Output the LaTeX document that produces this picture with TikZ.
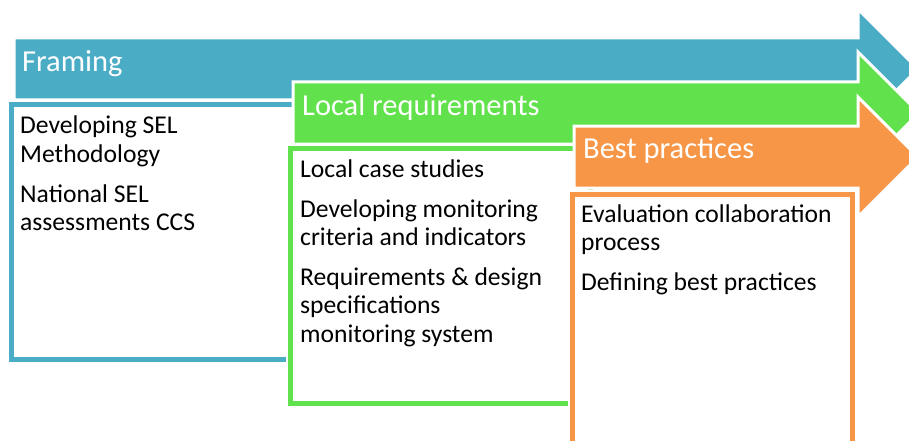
\documentclass[tikz,border=0pt]{standalone}
\usepackage{fontspec}
\setmainfont{Carlito}
\definecolor{cblue}{HTML}{4BACC6}
\definecolor{cgreen}{HTML}{61E14B}
\definecolor{corange}{HTML}{F79646}
\tikzset{
  arrowshape/.style={draw=white, line width=3pt, line join=miter},
  boxshape/.style={fill=white, line width=5pt},
  halo/.style={draw=white, line width=9pt},
  titletext/.style={anchor=base west, inner sep=0pt, text=white, font=\fontsize{30.5}{36}\selectfont},
  bodytext/.style={anchor=base west, inner sep=0pt, text=black, font=\fontsize{25.6}{28.5}\selectfont},
}
\begin{document}
\begin{tikzpicture}[x=1pt, y=-1pt]
\useasboundingbox (0,0) rectangle (909,441);
\clip (0,0) rectangle (909,441);
% blue arrow and box
\filldraw[arrowshape, fill=cblue] (14,38) -- (858,38) -- (858,9) -- (918,69) -- (858,129) -- (858,100) -- (14,100) -- cycle;
\node[titletext] (t1) at (22,72) {Framing};
\draw[halo] (11.5,105) rectangle (310,359.5);
\draw[boxshape, draw=cblue] (11.5,105) rectangle (310,359.5);
\node[bodytext] (b1a) at (20,133) {Developing SEL};
\node[bodytext] (b1b) at (20,162) {Methodology};
\node[bodytext] (b1c) at (20,202) {National SEL};
\node[bodytext] (b1d) at (20,230) {assessments CCS};
% green arrow and box
\filldraw[arrowshape, fill=cgreen] (293,82) -- (858,82) -- (858,52) -- (919,113) -- (858,174) -- (858,144) -- (293,144) -- cycle;
\node[titletext] (t2) at (302,115) {Local requirements};
\draw[halo] (290.5,148) rectangle (590,403.5);
\draw[boxshape, draw=cgreen] (290.5,148) rectangle (590,403.5);
\node[bodytext] (b2a) at (300,177) {Local case studies};
\node[bodytext] (b2b) at (300,217) {Developing monitoring};
\node[bodytext] (b2c) at (300,245) {criteria and indicators};
\node[bodytext] (b2d) at (300,285) {Requirements \& design};
\node[bodytext] (b2e) at (300,313) {specifications};
\node[bodytext] (b2f) at (300,342) {monitoring system};
% orange arrow and box
\filldraw[arrowshape, fill=corange] (574,126) -- (858,126) -- (858,97) -- (918,157) -- (858,217) -- (858,188) -- (574,188) -- cycle;
\node[titletext] (t3) at (583,158) {Best practices};
\draw[halo] (572.5,194) rectangle (852,470);
\draw[boxshape, draw=corange] (572.5,194) rectangle (852,470);
\node[bodytext] (b3a) at (581,222) {Evaluation collaboration};
\node[bodytext] (b3b) at (581,250) {process};
\node[bodytext] (b3c) at (581,290) {Defining best practices};
\end{tikzpicture}
\end{document}
